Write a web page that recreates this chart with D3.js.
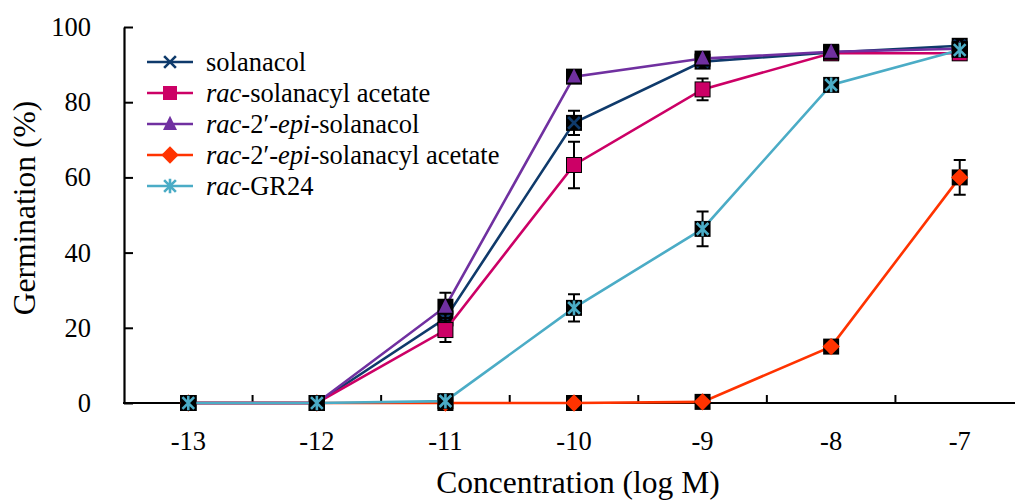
<!DOCTYPE html>
<html><head><meta charset="utf-8">
<script src="https://cdn.jsdelivr.net/npm/d3@7"></script>
<style>body{margin:0;background:#fff;} svg{display:block;}</style>
</head><body>
<svg id="chart" width="1015" height="501"></svg>
<script>
const categories = ["-13","-12","-11","-10","-9","-8","-7"];
const yTicks = [0,20,40,60,80,100];
const seriesNames = ["solanacol","rac-solanacyl acetate","rac-2′-epi-solanacol","rac-2′-epi-solanacyl acetate","rac-GR24"];
const solanacol      = [0, 0, 22.5, 74.5, 90.8, 93.2, 95.0];
const solanacolErr   = [0, 0, 2.0, 3.2, 1.0, 0.6, 0.6];
const racAcetate     = [0, 0, 19.4, 63.3, 83.4, 93.0, 93.0];
const racAcetateErr  = [0, 0, 3.2, 6.2, 2.9, 0.6, 0.6];
const epiSolanacol   = [0, 0, 25.6, 86.8, 91.6, 93.4, 94.2];
const epiSolanacolErr= [0, 0, 3.7, 1.0, 0.8, 0.6, 0.6];
const epiAcetate     = [0, 0, 0, 0, 0.3, 15.0, 60.0];
const epiAcetateErr  = [0, 0, 0, 0, 0, 1.0, 4.6];
const gr24           = [0, 0, 0.5, 25.3, 46.3, 84.6, 93.9];
const gr24Err        = [0, 0, 0.3, 3.6, 4.6, 0.8, 0.8];

const seriesColors = ["#0F3A6B","#CC0066","#7030A0","#FF3300","#4BACC6"];
const seriesSymbols = ["cross","square","triangle","diamond","asterisk"];
const seriesValues = [solanacol, racAcetate, epiSolanacol, epiAcetate, gr24];
const seriesErrors = [solanacolErr, racAcetateErr, epiSolanacolErr, epiAcetateErr, gr24Err];
const FONT = "Liberation Serif";

const svg = d3.select("#chart").style("font-family", FONT);
const x = d3.scaleBand().domain(categories).range([124, 1024]).paddingInner(0).paddingOuter(0);
const y = d3.scaleLinear().domain([0, 100]).range([403, 27]);
const cx = c => x(c) + x.bandwidth()/2;

// Y axis
const yAxis = d3.axisLeft(y).tickValues(yTicks).tickSizeInner(-9).tickSizeOuter(0).tickPadding(33);
const gy = svg.append("g").attr("transform","translate(124,0)").call(yAxis).attr("font-family", null);
gy.select(".domain").attr("stroke","#000").attr("stroke-width",2.2);
gy.selectAll(".tick line").attr("stroke","#000").attr("stroke-width",2);
gy.selectAll(".tick text").attr("font-size",26.5).attr("fill","#000").style("font-family",FONT);

// X axis with labels at centers and ticks at band boundaries
const xAxis = d3.axisBottom(x).tickSize(0).tickPadding(28);
const gx = svg.append("g").attr("transform","translate(0,403)").call(xAxis).attr("font-family", null);
gx.select(".domain").remove();
gx.selectAll(".tick text").attr("font-size",26.5).attr("fill","#000").style("font-family",FONT);
svg.append("line").attr("x1",123).attr("x2",1015).attr("y1",403).attr("y2",403).attr("stroke","#000").attr("stroke-width",2.2);
svg.append("g").selectAll("line").data(categories.slice(1)).join("line")
  .attr("x1",d=>x(d)).attr("x2",d=>x(d)).attr("y1",403).attr("y2",395)
  .attr("stroke","#000").attr("stroke-width",2);

// Axis titles
svg.append("text").attr("x",578).attr("y",493).attr("text-anchor","middle").attr("font-size",31.5).style("font-family",FONT).text("Concentration (log M)");
svg.append("text").attr("transform","translate(35,208) rotate(-90)").attr("text-anchor","middle").attr("font-size",31.5).style("font-family",FONT).text("Germination (%)");

function drawMarker(g, type, color, px, py, s) {
  if (type === "square") {
    g.append("rect").attr("x",px-s/2).attr("y",py-s/2).attr("width",s).attr("height",s).attr("fill",color);
  } else if (type === "triangle") {
    const h = s*0.95;
    g.append("path").attr("d",`M${px},${py-h*0.62}L${px+s/2},${py+h*0.45}L${px-s/2},${py+h*0.45}Z`).attr("fill",color);
  } else if (type === "diamond") {
    const r = s*0.62;
    g.append("path").attr("d",`M${px},${py-r}L${px+r},${py}L${px},${py+r}L${px-r},${py}Z`).attr("fill",color);
  } else if (type === "cross") {
    const r = s*0.42;
    g.append("path").attr("d",`M${px-r},${py-r}L${px+r},${py+r}M${px-r},${py+r}L${px+r},${py-r}`).attr("stroke",color).attr("stroke-width",2.6);
  } else if (type === "asterisk") {
    const r = s*0.42;
    g.append("path").attr("d",`M${px-r},${py-r}L${px+r},${py+r}M${px-r},${py+r}L${px+r},${py-r}M${px},${py-r*1.25}L${px},${py+r*1.25}`).attr("stroke",color).attr("stroke-width",2.6);
  }
}

const line = d3.line().x((d,i)=>cx(categories[i])).y(d=>y(d));
seriesValues.forEach((vals, si) => {
  const g = svg.append("g");
  g.append("path").datum(vals).attr("d", line).attr("fill","none").attr("stroke",seriesColors[si]).attr("stroke-width",2.6);
  vals.forEach((v, i) => {
    const px = cx(categories[i]), py = y(v), e = seriesErrors[si][i];
    g.append("rect").attr("x",px-8).attr("y",py-8).attr("width",16).attr("height",16).attr("fill","#000");
    if (e > 0) {
      const ey1 = y(v+e), ey2 = y(v-e);
      g.append("path").attr("d",`M${px},${ey1}L${px},${ey2}M${px-6},${ey1}L${px+6},${ey1}M${px-6},${ey2}L${px+6},${ey2}`)
        .attr("stroke","#000").attr("stroke-width",2).attr("fill","none");
    }
    drawMarker(g, seriesSymbols[si], seriesColors[si], px, py, 14);
  });
});

// Legend
const legend = svg.append("g");
seriesNames.forEach((name, i) => {
  const ly = 62 + i*31;
  legend.append("line").attr("x1",147).attr("x2",193).attr("y1",ly).attr("y2",ly).attr("stroke",seriesColors[i]).attr("stroke-width",2.6);
  drawMarker(legend, seriesSymbols[i], seriesColors[i], 170, ly, 14);
  const t = legend.append("text").attr("x",206).attr("y",ly).attr("dy","0.33em").attr("font-size",26.5).style("font-family",FONT);
  const parts = name.split(/(rac|epi)/).filter(p=>p.length);
  parts.forEach(p => {
    const ts = t.append("tspan").text(p);
    if (p === "rac" || p === "epi") ts.attr("font-style","italic");
  });
});
</script>
</body></html>
